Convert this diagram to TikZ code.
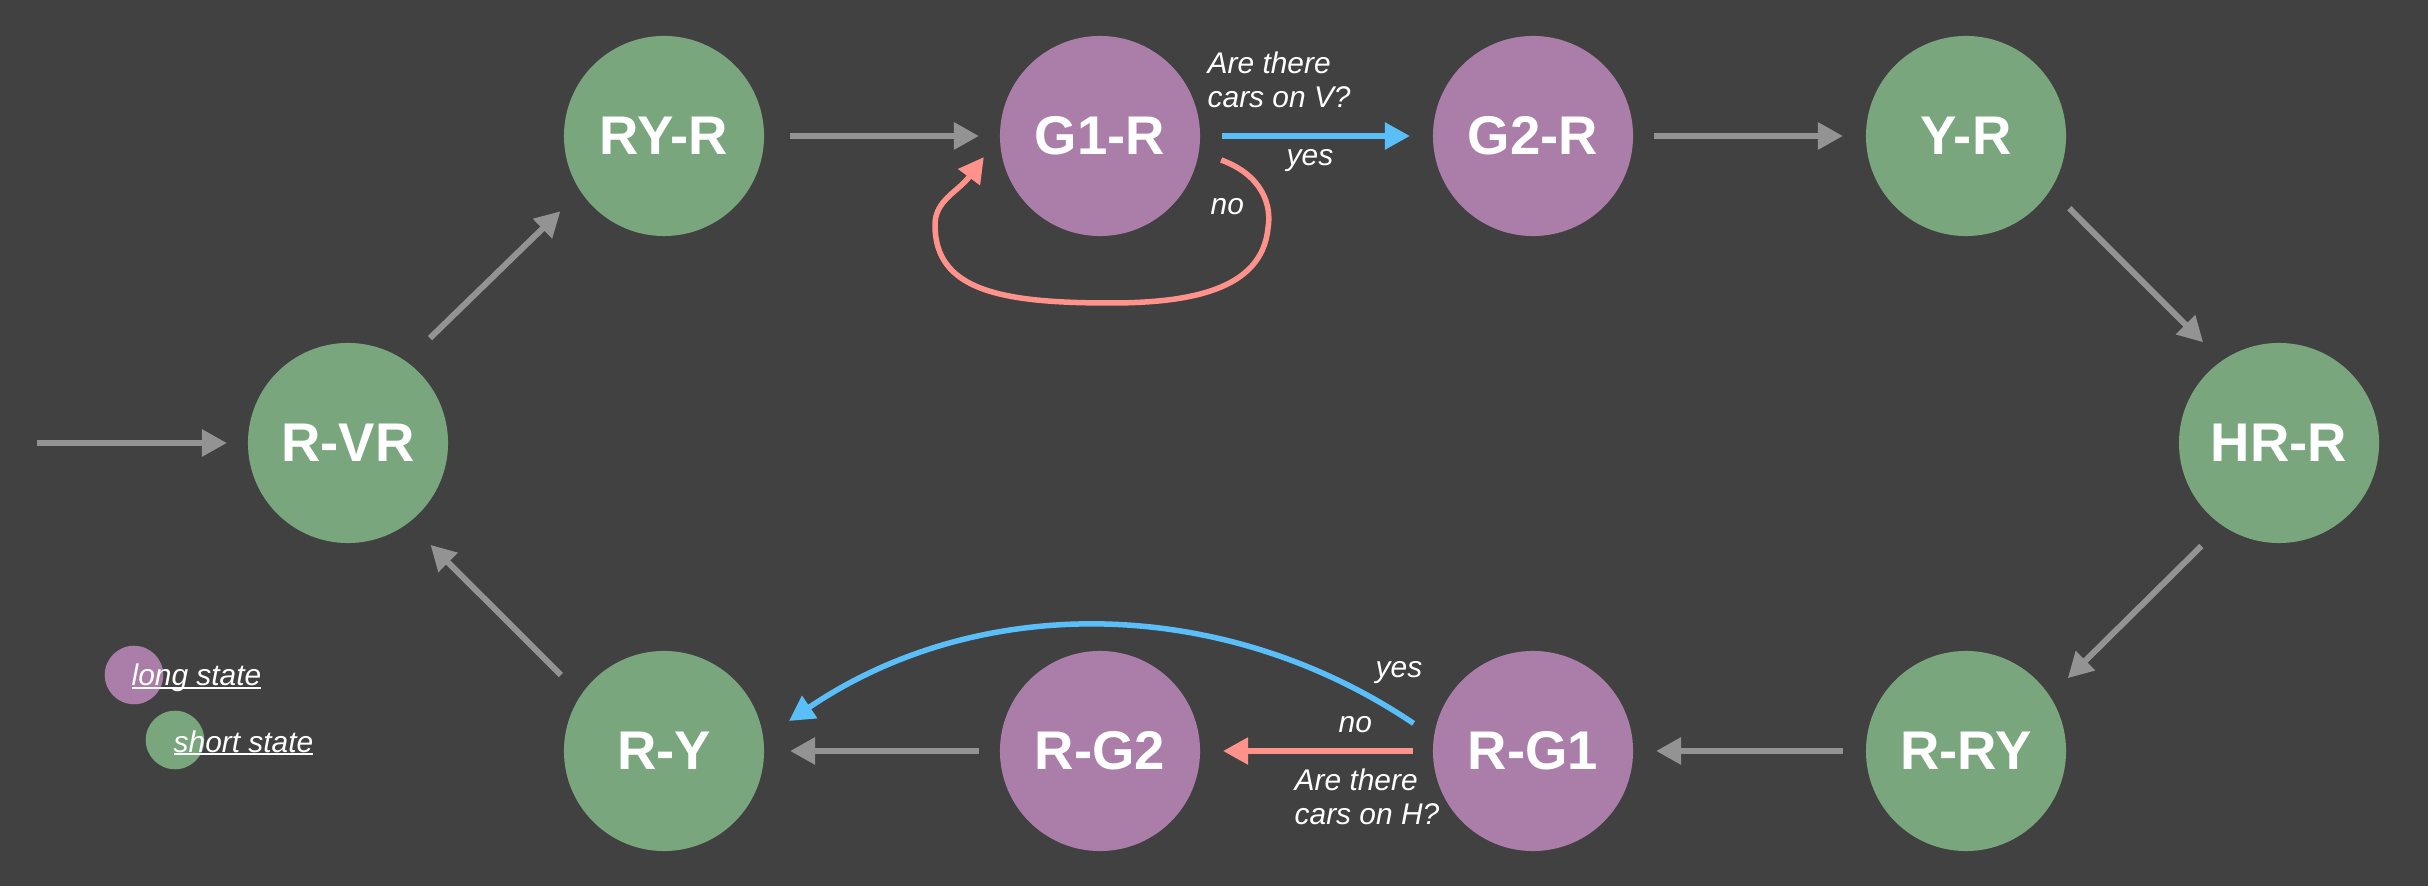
\documentclass[tikz,border=0pt]{standalone}
\usepackage{fontspec}
\setmainfont{Liberation Sans}
\usetikzlibrary{arrows.meta,calc}
\definecolor{bg}{RGB}{65,65,65}
\definecolor{longc}{RGB}{170,126,168}
\definecolor{shortc}{RGB}{122,166,126}
\definecolor{edgegray}{RGB}{147,147,147}
\definecolor{yesblue}{RGB}{90,190,248}
\definecolor{nored}{RGB}{255,147,140}
\newcommand\legul[1]{\setbox0\hbox{#1}\rlap{\rule[-0.09em]{\wd0}{0.07em}}\box0}
\begin{document}
\begin{tikzpicture}[x=0.01cm,y=-0.01cm,
  state/.style={circle,minimum size=2cm,inner sep=0pt,text=white,font=\fontsize{15.5}{18}\selectfont\bfseries},
  longstate/.style={state,fill=longc},
  shortstate/.style={state,fill=shortc},
  flow/.style={draw=edgegray,line width=0.06cm,-{Triangle[length=0.25cm,width=0.26cm]}},
  yesflow/.style={draw=yesblue,line width=0.055cm,-{Triangle[length=0.25cm,width=0.26cm]}},
  noflow/.style={draw=nored,line width=0.055cm,-{Triangle[length=0.25cm,width=0.26cm]}},
  lbl/.style={text=white,font=\fontsize{8.5}{9.7}\selectfont\itshape,inner sep=0pt},
  legdot/.style={circle,inner sep=0pt,minimum size=0.585cm},
]
\fill[bg] (0,0) rectangle (2428,886);
\useasboundingbox (0,0) rectangle (2428,886);

% states
\node[shortstate] (rvr) at (348,443) {R-VR};
\node[shortstate] (ryr) at (664,136) {RY-R};
\node[longstate]  (g1r) at (1100,136) {G1-R};
\node[longstate]  (g2r) at (1533,136) {G2-R};
\node[shortstate] (yr)  at (1966,136) {Y-R};
\node[shortstate] (hrr) at (2279,443) {HR-R};
\node[shortstate] (rry) at (1966,751) {R-RY};
\node[longstate]  (rg1) at (1533,751) {R-G1};
\node[longstate]  (rg2) at (1100,751) {R-G2};
\node[shortstate] (ry)  at (664,751) {R-Y};

% connectors
\coordinate (entry) at (37,443);
\draw[flow] (entry) -- ($(rvr)+(180:1.21cm)$);
\draw[flow] ($(rvr)+(52:1.33cm)$) -- ($(ryr)+(216:1.28cm)$);
\draw[flow] ($(ryr)+(0:1.26cm)$) -- ($(g1r)+(180:1.21cm)$);
\draw[yesflow] ($(g1r)+(0:1.22cm)$) -- ($(g2r)+(180:1.23cm)$);
\draw[flow] ($(g2r)+(0:1.21cm)$) -- ($(yr)+(180:1.23cm)$);
\draw[flow] ($(yr)+(325:1.26cm)$) -- ($(hrr)+(127:1.26cm)$);
\draw[flow] ($(hrr)+(233:1.29cm)$) -- ($(rry)+(35.6:1.25cm)$);
\draw[flow] ($(rry)+(180:1.23cm)$) -- ($(rg1)+(0:1.23cm)$);
\draw[noflow] ($(rg1)+(180:1.20cm)$) -- ($(rg2)+(0:1.23cm)$);
\draw[flow] ($(rg2)+(180:1.21cm)$) -- ($(ry)+(0:1.26cm)$);
\draw[flow] ($(ry)+(143.6:1.28cm)$) -- ($(rvr)+(309:1.31cm)$);
\draw[yesflow] ($(rg1)+(167:1.225cm)$) .. controls (1225,596) and (981,591) .. ($(ry)+(13.5:1.285cm)$);
\draw[noflow] ($(g1r)+(348.8:1.234cm)$) .. controls (1262,175) and (1272,205) .. (1268,228)
  .. controls (1262,290) and (1190,303) .. (1110,303)
  .. controls (1000,303) and (935,290) .. (935,225)
  .. controls (935,200) and (958,192) .. ($(g1r)+(190.3:1.18cm)$);

% labels
\node[lbl,align=left,anchor=north west] (qv) at (1207,51) {Are there\\cars on V?};
\node[lbl,anchor=base west] (yesv) at (1286,166) {yes};
\node[lbl,anchor=base west] (nov) at (1210,215) {no};
\node[lbl,anchor=base west] (yesh) at (1375,678) {yes};
\node[lbl,anchor=base west] (noh) at (1338,733) {no};
\node[lbl,align=left,anchor=north west] (qh) at (1294,768) {Are there\\cars on H?};

% legend
\node[legdot,fill=longc] (legl) at (134,675) {};
\node[lbl,anchor=base west] (legltext) at (131,686) {\legul{long state}};
\node[legdot,fill=shortc] (legs) at (175,740) {};
\node[lbl,anchor=base west] (legstext) at (173,752) {\legul{short state}};
\end{tikzpicture}
\end{document}
